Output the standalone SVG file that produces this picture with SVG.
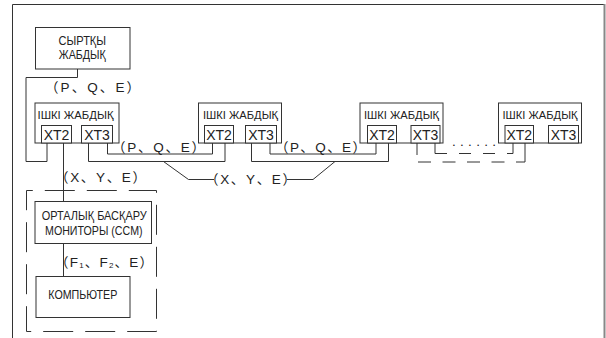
<svg xmlns="http://www.w3.org/2000/svg" width="606" height="338" viewBox="0 0 606 338">
<style>
.box{fill:#fff;stroke:#333;stroke-width:1}
.ln{fill:none;stroke:#333;stroke-width:1}
.dl{fill:none;stroke:#333;stroke-width:1}
.cy{font-family:"Liberation Sans Narrow","Liberation Sans",sans-serif;fill:#222}
.xt{font-family:"Liberation Sans",sans-serif;font-size:14px;fill:#222;text-anchor:middle}
.lb{font-family:"Liberation Sans","Noto Sans CJK SC",sans-serif;font-size:13.5px;fill:#222}
</style>
<rect x="0" y="0" width="606" height="338" fill="#fff"/>
<g id="frame">
<path class="ln" d="M12.5,338 V4.5 H604"/>
<line x1="604.5" y1="4" x2="604.5" y2="338" stroke="#888" stroke-width="2"/>
</g>
<g id="connectors">
<path class="ln" d="M77.5,69 V77.5 H26 V161.5 H47 V143"/>
<path class="ln" d="M63.5,143 V201.5"/>
<path class="ln" d="M63.5,243.5 V276.5"/>
<path class="ln" d="M107.5,143 V154 H212.5 V143"/>
<path class="ln" d="M88.5,143 V161.5 H225 V143"/>
<path class="ln" d="M270,143 V154 H376 V143"/>
<path class="ln" d="M251.5,143 V161.5 H388.5 V143"/>
<path class="ln" d="M163.5,161.5 L188.5,179.5 H214"/>
<path class="ln" d="M287,179.5 H313 L335,161.5"/>
<path class="ln" d="M435,143 V153.5"/>
<path class="ln" d="M513,153.5 V143"/>
<path class="dl" stroke-dasharray="12 12" d="M435,153.5 H513"/>
<path class="ln" d="M417,143 V155"/>
<path class="ln" d="M525,162 V143"/>
<path class="dl" stroke-dasharray="13 11.5" d="M418,162 H525"/>
<rect class="dl" x="26.5" y="190.5" width="130" height="141" fill="none" stroke-dasharray="30 12" stroke-dashoffset="23.7"/>
<text class="lb" x="45" y="91.5" textLength="95" lengthAdjust="spacing">（P、Q、E）</text>
<text class="lb" x="112" y="152" textLength="93" lengthAdjust="spacing">（P、Q、E）</text>
<text class="lb" x="275" y="152" textLength="91" lengthAdjust="spacing">（P、Q、E）</text>
<text class="lb" x="55" y="182" textLength="91" lengthAdjust="spacing">（X、Y、E）</text>
<text class="lb" x="205" y="183.5" textLength="91" lengthAdjust="spacing">（X、Y、E）</text>
<text class="lb" x="55" y="267" textLength="98" lengthAdjust="spacing">（F<tspan font-size="8" dy="1">1</tspan><tspan dy="-1">、F</tspan><tspan font-size="8" dy="1">2</tspan><tspan dy="-1">、E）</tspan></text>
<text class="lb" x="452" y="146" letter-spacing="4.3">......</text>
</g>
<g id="outer">
<rect class="box" x="35.5" y="27.5" width="94.5" height="41.5"/>
<text class="cy" font-size="12" x="82.3" y="45" text-anchor="middle" textLength="47.5" lengthAdjust="spacingAndGlyphs">СЫРТҚЫ</text>
<text class="cy" font-size="12" x="82.3" y="59" text-anchor="middle" textLength="47" lengthAdjust="spacingAndGlyphs">ЖАБДЫҚ</text>
</g>
<g id="indoor1">
<rect class="box" x="35" y="103" width="84" height="40"/>
<text class="cy" font-size="11.5" x="75.5" y="119.3" text-anchor="middle" textLength="76" lengthAdjust="spacingAndGlyphs">ІШКІ ЖАБДЫҚ</text>
<rect class="box" x="41.5" y="125.5" width="30" height="17.5"/>
<rect class="box" x="81.5" y="125.5" width="31" height="17.5"/>
<text class="xt" x="56.5" y="140">XT2</text>
<text class="xt" x="97" y="140">XT3</text>
</g>
<g id="indoor2">
<rect class="box" x="198.5" y="103" width="83" height="40"/>
<text class="cy" font-size="11.5" x="240.5" y="119.3" text-anchor="middle" textLength="75" lengthAdjust="spacingAndGlyphs">ІШКІ ЖАБДЫҚ</text>
<rect class="box" x="204.5" y="125.5" width="29" height="17.5"/>
<rect class="box" x="245.5" y="125.5" width="31" height="17.5"/>
<text class="xt" x="219" y="140">XT2</text>
<text class="xt" x="261" y="140">XT3</text>
</g>
<g id="indoor3">
<rect class="box" x="360" y="103" width="83" height="40"/>
<text class="cy" font-size="11.5" x="401.5" y="119.3" text-anchor="middle" textLength="75" lengthAdjust="spacingAndGlyphs">ІШКІ ЖАБДЫҚ</text>
<rect class="box" x="367.5" y="125.5" width="29" height="17.5"/>
<rect class="box" x="411" y="125.5" width="29" height="17.5"/>
<text class="xt" x="382" y="140">XT2</text>
<text class="xt" x="425.5" y="140">XT3</text>
</g>
<g id="indoor4">
<rect class="box" x="498.5" y="103" width="83" height="40"/>
<text class="cy" font-size="11.5" x="540" y="119.3" text-anchor="middle" textLength="75" lengthAdjust="spacingAndGlyphs">ІШКІ ЖАБДЫҚ</text>
<rect class="box" x="505" y="125.5" width="28.5" height="17.5"/>
<rect class="box" x="548.5" y="125.5" width="30" height="17.5"/>
<text class="xt" x="519.3" y="140">XT2</text>
<text class="xt" x="563.5" y="140">XT3</text>
</g>
<g id="ccm">
<rect class="box" x="35" y="201.5" width="116.5" height="42"/>
<text class="cy" font-size="13" x="94.2" y="219.5" text-anchor="middle" textLength="105" lengthAdjust="spacingAndGlyphs">ОРТАЛЫҚ БАСҚАРУ</text>
<text class="cy" font-size="13" x="93.8" y="235" text-anchor="middle" textLength="97.5" lengthAdjust="spacingAndGlyphs">МОНИТОРЫ (CCM)</text>
</g>
<g id="computer">
<rect class="box" x="36" y="276.5" width="94" height="41"/>
<text class="cy" font-size="13" x="82.8" y="299" text-anchor="middle" textLength="69" lengthAdjust="spacingAndGlyphs">КОМПЬЮТЕР</text>
</g>
</svg>
